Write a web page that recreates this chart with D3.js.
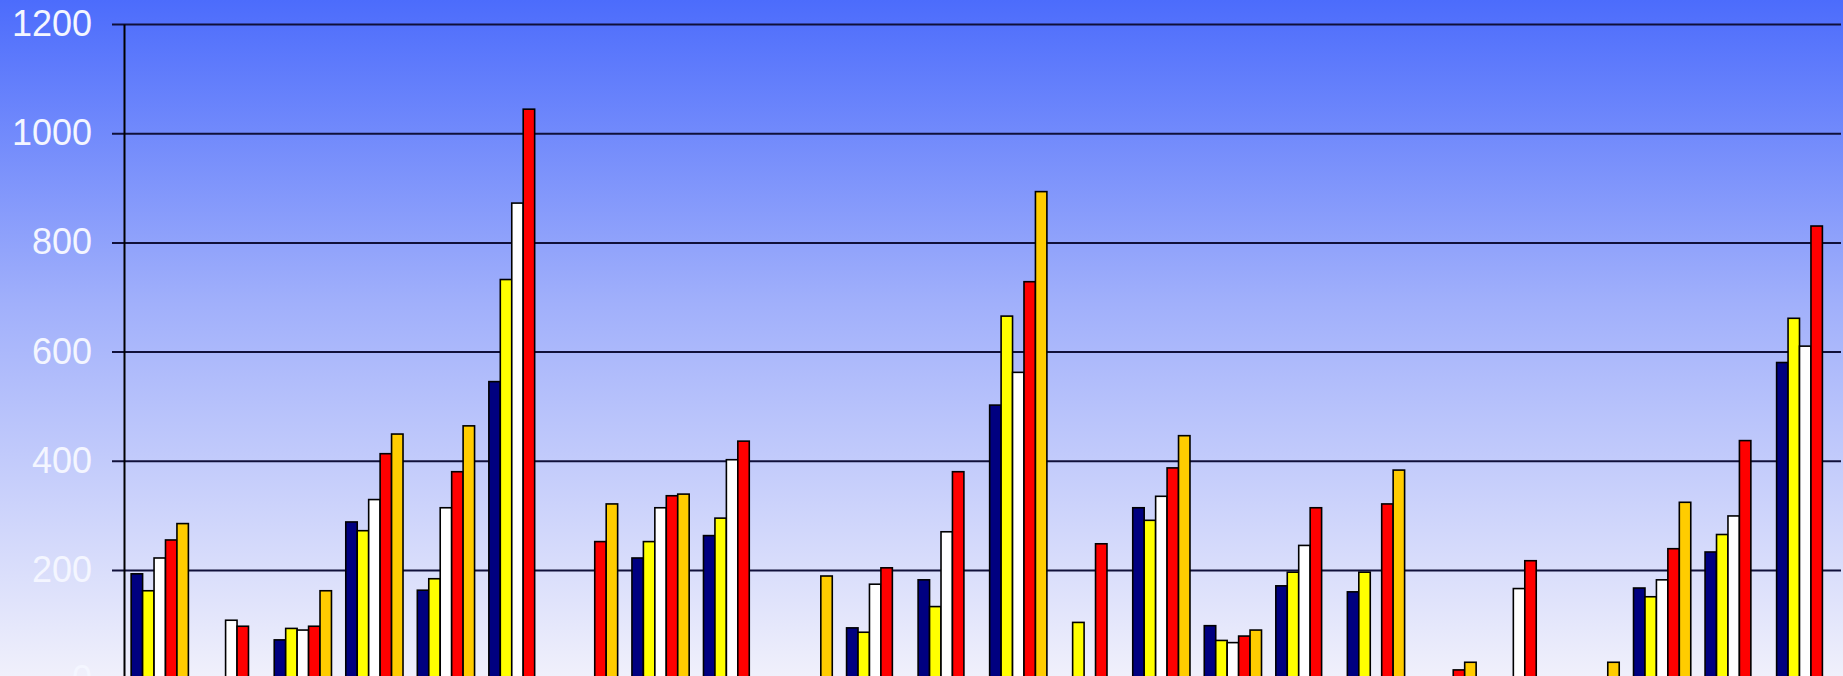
<!DOCTYPE html>
<html>
<head>
<meta charset="utf-8">
<script src="https://cdn.jsdelivr.net/npm/d3@7"></script>
<style>
    html, body { margin: 0; padding: 0; overflow: hidden; }
    #chart svg { display: block; }
</style>
</head>
<body>
<div id="chart"></div>
<script>
const categories = ['1', '2', '3', '4', '5', '6', '7', '8', '9', '10', '11', '12',
    '13', '14', '15', '16', '17', '18', '19', '20', '21', '22', '23', '24'];

const seriesNames = ['navy', 'yellow', 'white', 'red', 'orange'];

// one array per series, null where no bar is drawn
const navyValues   = [193, null, 72, 288, 163, 545, null, 222, 263, null, 94, 182, 502, null, 314, 98, 171, 160, null, null, null, 167, 233, 580];
const yellowValues = [162, null, 93, 272, 184, 732, null, 252, 295, null, 86, 133, 665, 104, 291, 71, 196, 196, null, null, null, 151, 265, 661];
const whiteValues  = [222, 108, 90, 329, 314, 872, null, 314, 402, null, 174, 270, 562, null, 335, 67, 245, null, null, 166, null, 182, 299, 610];
const redValues    = [255, 97, 97, 413, 380, 1044, 252, 336, 436, null, 204, 380, 728, 248, 387, 79, 314, 321, 17, 217, null, 239, 437, 830];
const orangeValues = [285, null, 162, 449, 464, null, 321, 339, null, 189, null, null, 893, null, 446, 90, null, 383, 31, null, 31, 324, null, null];

const yTicks = [0, 200, 400, 600, 800, 1000, 1200];

const colors = {
    navy: '#000080',
    yellow: '#ffff00',
    white: '#ffffff',
    red: '#ff0000',
    orange: '#ffcc00'
};

const width = 1843;
const height = 676;
const plot = { left: 124, right: 1841, top: 24, bottom: 679.2 };

function drawChart() {
    const allSeries = [navyValues, yellowValues, whiteValues, redValues, orangeValues];

    const svg = d3.select('#chart')
        .append('svg')
        .attr('width', width)
        .attr('height', height);

    const grad = svg.append('defs').append('linearGradient')
        .attr('id', 'bg')
        .attr('x1', 0).attr('y1', 0).attr('x2', 0).attr('y2', 1);
    grad.append('stop').attr('offset', '0%').attr('stop-color', '#4c6cfc');
    grad.append('stop').attr('offset', '45%').attr('stop-color', '#a1b0fb');
    grad.append('stop').attr('offset', '100%').attr('stop-color', '#f0f0fb');

    svg.append('rect')
        .attr('width', width)
        .attr('height', height)
        .attr('fill', 'url(#bg)');

    const x0 = d3.scaleBand()
        .domain(categories)
        .range([plot.left, plot.right])
        .paddingInner(0.2)
        .paddingOuter(0.1);

    const x1 = d3.scaleBand()
        .domain(seriesNames)
        .range([0, x0.bandwidth()]);

    const y = d3.scaleLinear()
        .domain([0, 1200])
        .range([plot.bottom, plot.top]);

    // gridlines, running 12px past the axis like ticks
    svg.append('g')
        .attr('transform', `translate(${plot.left - 12},0)`)
        .call(d3.axisRight(y).tickValues(yTicks).tickSize(plot.right - plot.left + 12).tickFormat(''))
        .call(g => g.select('.domain').remove())
        .selectAll('line')
        .attr('stroke', '#10103a')
        .attr('stroke-width', 2);

    const rows = categories.map((c, i) => ({
        cat: c,
        bars: seriesNames.map((s, j) => ({ key: s, value: allSeries[j][i] }))
    }));

    svg.append('g')
        .selectAll('g')
        .data(rows)
        .enter()
        .append('g')
        .attr('transform', d => `translate(${x0(d.cat)},0)`)
        .selectAll('rect')
        .data(d => d.bars.filter(b => b.value != null))
        .enter()
        .append('rect')
        .attr('x', d => x1(d.key))
        .attr('y', d => y(d.value))
        .attr('width', x1.bandwidth())
        .attr('height', d => y(0) - y(d.value))
        .attr('fill', d => colors[d.key])
        .attr('stroke', '#000')
        .attr('stroke-width', 1.6);

    const axis = svg.append('g')
        .attr('transform', `translate(${plot.left},0)`)
        .call(d3.axisLeft(y).tickValues(yTicks).tickFormat(d3.format('d'))
            .tickSize(0).tickSizeOuter(0).tickPadding(32));

    axis.select('.domain')
        .attr('stroke', '#000')
        .attr('stroke-width', 2);

    axis.selectAll('text')
        .attr('fill', '#f4f6ff')
        .style('font-family', '"Liberation Sans", Arial, sans-serif')
        .style('font-size', '36px');
}

drawChart();
</script>
</body>
</html>
